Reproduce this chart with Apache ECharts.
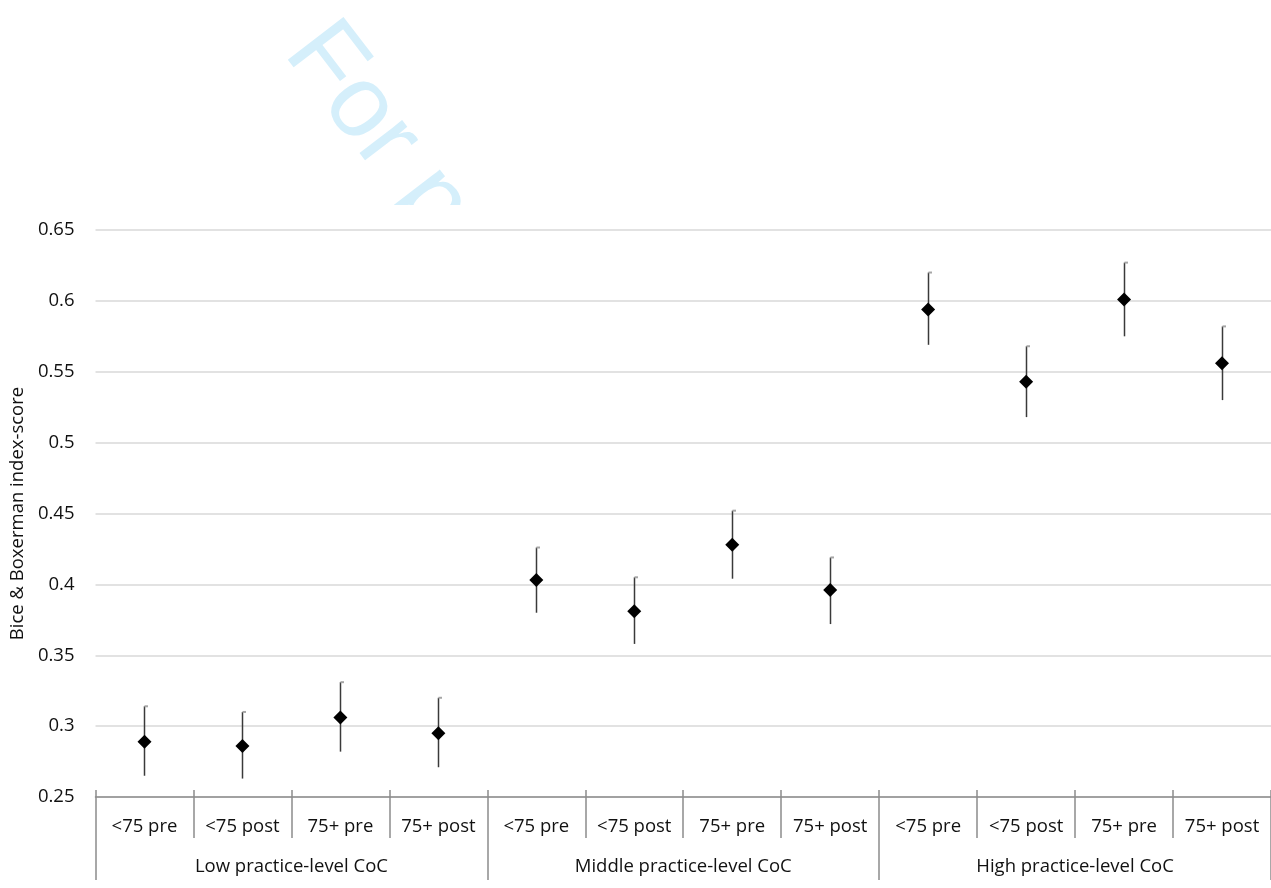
<!DOCTYPE html>
<html>
<head>
<meta charset="utf-8">
<style>
  html, body { margin: 0; padding: 0; background: #ffffff; }
  #chart { width: 1271px; height: 888px; }
</style>
<script src="https://cdn.jsdelivr.net/npm/echarts@6/dist/echarts.min.js"></script>
</head>
<body>
<div id="chart"></div>
<script>
// Age band / period within each practice-level continuity-of-care group
const categories = [
  '<75 pre', '<75 post', '75+ pre', '75+ post',
  '<75 pre', '<75 post', '75+ pre', '75+ post',
  '<75 pre', '<75 post', '75+ pre', '75+ post'
];
const groups = ['Low practice-level CoC', 'Middle practice-level CoC', 'High practice-level CoC'];

// Mean index-score and 95% interval bounds per category
const means = [0.289, 0.286, 0.306, 0.295, 0.403, 0.381, 0.428, 0.396, 0.594, 0.543, 0.601, 0.556];
const lower = [0.265, 0.263, 0.282, 0.271, 0.380, 0.358, 0.404, 0.372, 0.569, 0.518, 0.575, 0.530];
const upper = [0.314, 0.310, 0.331, 0.320, 0.426, 0.405, 0.452, 0.419, 0.620, 0.568, 0.627, 0.582];

const yTicks = { min: 0.25, max: 0.65, step: 0.05 };
const yTitle = 'Bice & Boxerman index-score';

const FONT = '"Open Sans", "Noto Sans", sans-serif';
const FONT_SIZE = 18.5;
const AXIS_GREY = '#8c8c8c';
const TEXT = '#111111';

const chart = echarts.init(document.getElementById('chart'), null, { renderer: 'canvas' });

const intervalData = categories.map((c, i) => [i, lower[i], upper[i]]);
const meanData = categories.map((c, i) => [i, means[i]]);

// Vertical interval line with a small grey cap on the upper end
function renderInterval(params, api) {
  const idx = api.value(0);
  const lo = api.coord([idx, api.value(1)]);
  const hi = api.coord([idx, api.value(2)]);
  const x = Math.round(lo[0]) + 0.5;
  return {
    type: 'group',
    children: [
      {
        type: 'line',
        shape: { x1: x, y1: lo[1], x2: x, y2: hi[1] },
        style: { stroke: '#3a3a3a', lineWidth: 1.5 }
      },
      {
        type: 'line',
        shape: { x1: x, y1: hi[1], x2: x + 3.5, y2: hi[1] },
        style: { stroke: '#a6a6a6', lineWidth: 2 }
      }
    ]
  };
}

chart.setOption({
  animation: false,
  backgroundColor: '#ffffff',
  graphic: [
    {
      type: 'text',
      z: -20,
      x: 305,
      y: 36,
      rotation: -52.5 * Math.PI / 180,
      style: {
        text: 'For peer review only',
        font: '102px "Liberation Sans", Arial, sans-serif',
        fill: '#d5effb',
        verticalAlign: 'middle',
        align: 'left'
      }
    },
    {
      // page area below the banner text
      type: 'rect',
      z: -10,
      shape: { x: 0, y: 205, width: 1271, height: 683 },
      style: { fill: '#ffffff' }
    }
  ],
  grid: { left: 94, right: 0, top: 230, bottom: 91, containLabel: false },
  xAxis: [
    {
      type: 'category',
      data: categories,
      boundaryGap: true,
      position: 'bottom',
      axisLine: { show: true, lineStyle: { color: AXIS_GREY, width: 1.5 } },
      axisTick: { show: true, interval: 0, length: 41, lineStyle: { color: AXIS_GREY, width: 1.5 } },
      axisLabel: { interval: 0, margin: 20, color: TEXT, fontFamily: FONT, fontSize: FONT_SIZE },
      splitLine: { show: false }
    },
    {
      type: 'category',
      data: groups,
      boundaryGap: true,
      position: 'bottom',
      axisLine: { show: false },
      axisTick: { show: true, interval: 0, length: 83, lineStyle: { color: AXIS_GREY, width: 1.5 } },
      axisLabel: { interval: 0, margin: 60, color: TEXT, fontFamily: FONT, fontSize: FONT_SIZE },
      splitLine: { show: false }
    },
    {
      type: 'category',
      data: categories,
      boundaryGap: true,
      position: 'bottom',
      axisLine: { show: false },
      axisTick: { show: true, inside: true, interval: 0, length: 7, lineStyle: { color: AXIS_GREY, width: 1.5 } },
      axisLabel: { show: false },
      splitLine: { show: false }
    }
  ],
  yAxis: {
    type: 'value',
    min: yTicks.min,
    max: yTicks.max,
    interval: yTicks.step,
    name: yTitle,
    nameLocation: 'middle',
    nameGap: 67,
    nameTextStyle: { color: TEXT, fontFamily: FONT, fontSize: FONT_SIZE },
    axisLine: { show: false },
    axisTick: { show: false },
    axisLabel: {
      margin: 21,
      color: TEXT,
      fontFamily: FONT,
      fontSize: FONT_SIZE,
      formatter: v => String(parseFloat(v.toFixed(2)))
    },
    splitLine: { show: true, lineStyle: { color: '#d9d9d9', width: 1.5 } }
  },
  series: [
    {
      type: 'custom',
      xAxisIndex: 0,
      renderItem: renderInterval,
      data: intervalData,
      encode: { x: 0, y: [1, 2] },
      z: 3
    },
    {
      type: 'scatter',
      xAxisIndex: 0,
      data: meanData,
      symbol: 'diamond',
      symbolSize: 14,
      itemStyle: { color: '#000000', opacity: 1 },
      z: 4
    }
  ]
});
</script>
</body>
</html>
